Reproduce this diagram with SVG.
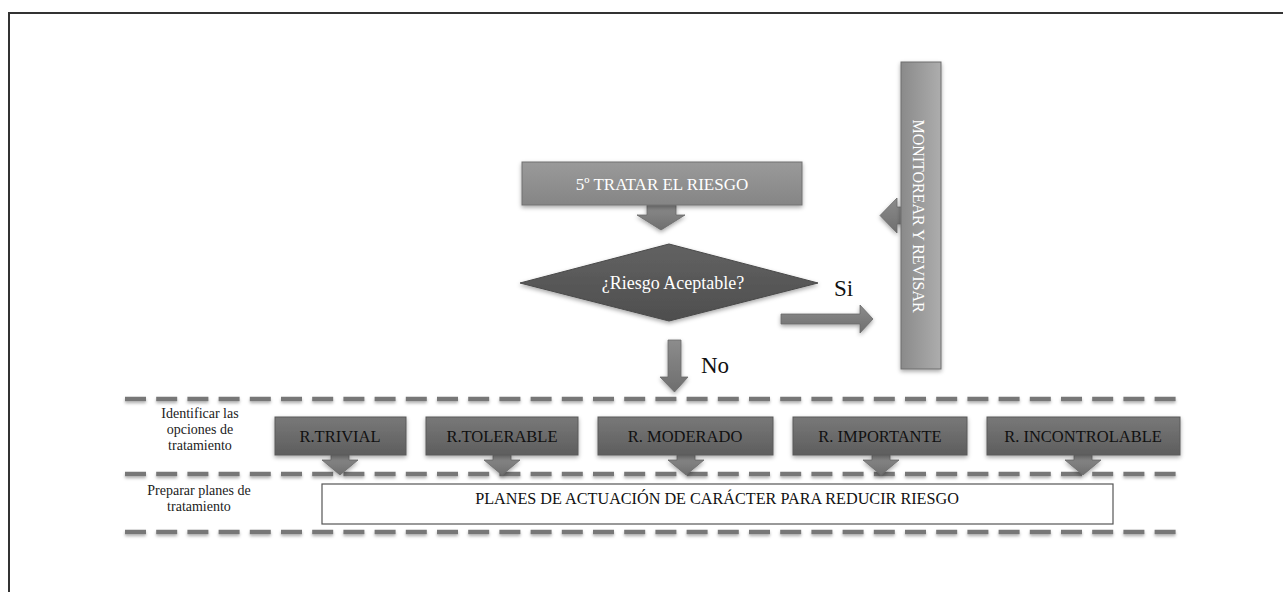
<svg xmlns="http://www.w3.org/2000/svg" width="1283" height="592" viewBox="0 0 1283 592">
  <defs>
    <style>
      text { font-family: "Liberation Serif", "DejaVu Serif", serif; }
      .white { fill: #ffffff; }
      .dark { fill: #111111; }
      .dash { stroke: #777777; stroke-width: 4.5; stroke-dasharray: 21 10.2; fill: none; }
      .arrow { fill: url(#gArrow); stroke: #6a6a6a; stroke-width: 0.8; filter: url(#shadow); }
      .risk { fill: url(#gRisk); stroke: #5a5a5a; stroke-width: 1; filter: url(#shadow); }
      .lbl { font-size: 14px; fill: #222; text-anchor: middle; }
    </style>
    <linearGradient id="gTop" x1="0" y1="0" x2="0" y2="1">
      <stop offset="0" stop-color="#9a9a9a"/>
      <stop offset="1" stop-color="#858585"/>
    </linearGradient>
    <linearGradient id="gRisk" x1="0" y1="0" x2="0" y2="1">
      <stop offset="0" stop-color="#787878"/>
      <stop offset="1" stop-color="#5e5e5e"/>
    </linearGradient>
    <linearGradient id="gDiamond" x1="0" y1="0" x2="0" y2="1">
      <stop offset="0" stop-color="#626262"/>
      <stop offset="1" stop-color="#4e4e4e"/>
    </linearGradient>
    <linearGradient id="gMon" x1="0" y1="0" x2="1" y2="0">
      <stop offset="0" stop-color="#8a8a8a"/>
      <stop offset="1" stop-color="#adadad"/>
    </linearGradient>
    <linearGradient id="gArrow" x1="0" y1="0" x2="0" y2="1">
      <stop offset="0" stop-color="#8c8c8c"/>
      <stop offset="1" stop-color="#6e6e6e"/>
    </linearGradient>
    <filter id="shadow" x="-20%" y="-20%" width="140%" height="160%">
      <feDropShadow dx="0" dy="2" stdDeviation="2" flood-color="#000" flood-opacity="0.35"/>
    </filter>
    <filter id="dashShadow" filterUnits="userSpaceOnUse" x="0" y="0" width="1283" height="592">
      <feDropShadow dx="0" dy="2" stdDeviation="1.8" flood-color="#000" flood-opacity="0.3"/>
    </filter>
  </defs>

  <rect width="1283" height="592" fill="#ffffff"/>
  <!-- frame -->
  <path d="M9,592 V13 H1283" fill="none" stroke="#333" stroke-width="2"/>

  <!-- dashed lane lines -->
  <g id="lanes" filter="url(#dashShadow)">
    <line class="dash" x1="125" y1="399" x2="1183" y2="399"/>
    <line class="dash" x1="125" y1="474" x2="1183" y2="474"/>
    <line class="dash" x1="125" y1="532" x2="1183" y2="532"/>
  </g>

  <g id="lane-labels">
    <text class="lbl" x="200" y="418">Identificar las</text>
    <text class="lbl" x="200" y="434">opciones de</text>
    <text class="lbl" x="200" y="450">tratamiento</text>
    <text class="lbl" x="199" y="495">Preparar planes de</text>
    <text class="lbl" x="199" y="511">tratamiento</text>
  </g>

  <!-- connectors -->
  <g id="connectors">
    <polygon class="arrow" points="647,205 676,205 676,215 685,215 661,230 637,215 647,215"/>
    <polygon class="arrow" points="668,340 681,340 681,377 688,377 674.5,392 660,377 668,377"/>
    <polygon class="arrow" points="781,314 860,314 860,305 873,319 860,333 860,324 781,324"/>
    <polygon class="arrow" points="902,207 897,207 897,198 880,215.5 897,233 897,224 902,224"/>
    <polygon class="arrow" points="331,455 349,455 349,460 358,460 340,475 322,460 331,460"/>
    <polygon class="arrow" points="493,455 511,455 511,460 520,460 502,475 484,460 493,460"/>
    <polygon class="arrow" points="677,455 695,455 695,460 704,460 686,475 668,460 677,460"/>
    <polygon class="arrow" points="872,455 890,455 890,460 899,460 881,475 863,460 872,460"/>
    <polygon class="arrow" points="1074,455 1092,455 1092,460 1101,460 1083,475 1065,460 1074,460"/>
  </g>

  <g id="tratar">
    <rect x="522" y="162" width="280" height="43" fill="url(#gTop)" stroke="#707070" stroke-width="1" filter="url(#shadow)"/>
    <text class="white" x="662" y="190" font-size="17" text-anchor="middle">5º TRATAR EL RIESGO</text>
  </g>

  <g id="decision">
    <polygon points="669,244 818,283 669,321 520,283" fill="url(#gDiamond)" stroke="#4a4a4a" stroke-width="1" filter="url(#shadow)"/>
    <text class="white" x="673" y="289" font-size="18" text-anchor="middle">¿Riesgo Aceptable?</text>
  </g>

  <g id="label-si">
    <text class="dark" x="834" y="296" font-size="23">Si</text>
  </g>
  <g id="label-no">
    <text class="dark" x="701" y="373" font-size="23">No</text>
  </g>

  <g id="monitorear">
    <rect x="901" y="62" width="40" height="307" fill="url(#gMon)" stroke="#6e6e6e" stroke-width="1" filter="url(#shadow)"/>
    <text class="white" font-size="16" text-anchor="middle" transform="translate(913,216) rotate(90)">MONITOREAR Y REVISAR</text>
  </g>

  <g id="r-trivial">
    <rect class="risk" x="275" y="417" width="131" height="38"/>
    <text class="dark" x="340" y="442" font-size="16.5" text-anchor="middle">R.TRIVIAL</text>
  </g>
  <g id="r-tolerable">
    <rect class="risk" x="426" y="417" width="152" height="38"/>
    <text class="dark" x="502" y="442" font-size="16.5" text-anchor="middle">R.TOLERABLE</text>
  </g>
  <g id="r-moderado">
    <rect class="risk" x="598" y="417" width="175" height="38"/>
    <text class="dark" x="685" y="442" font-size="16.5" text-anchor="middle">R. MODERADO</text>
  </g>
  <g id="r-importante">
    <rect class="risk" x="793" y="417" width="174" height="38"/>
    <text class="dark" x="880" y="442" font-size="16.5" text-anchor="middle">R. IMPORTANTE</text>
  </g>
  <g id="r-incontrolable">
    <rect class="risk" x="987" y="417" width="193" height="38"/>
    <text class="dark" x="1083" y="442" font-size="16.5" text-anchor="middle">R. INCONTROLABLE</text>
  </g>

  <g id="planes">
    <rect x="322" y="484" width="791" height="40" fill="#ffffff" stroke="#555" stroke-width="1.2"/>
    <text class="dark" x="717" y="504" font-size="16.2" text-anchor="middle">PLANES DE ACTUACIÓN DE CARÁCTER PARA REDUCIR RIESGO</text>
  </g>
</svg>
